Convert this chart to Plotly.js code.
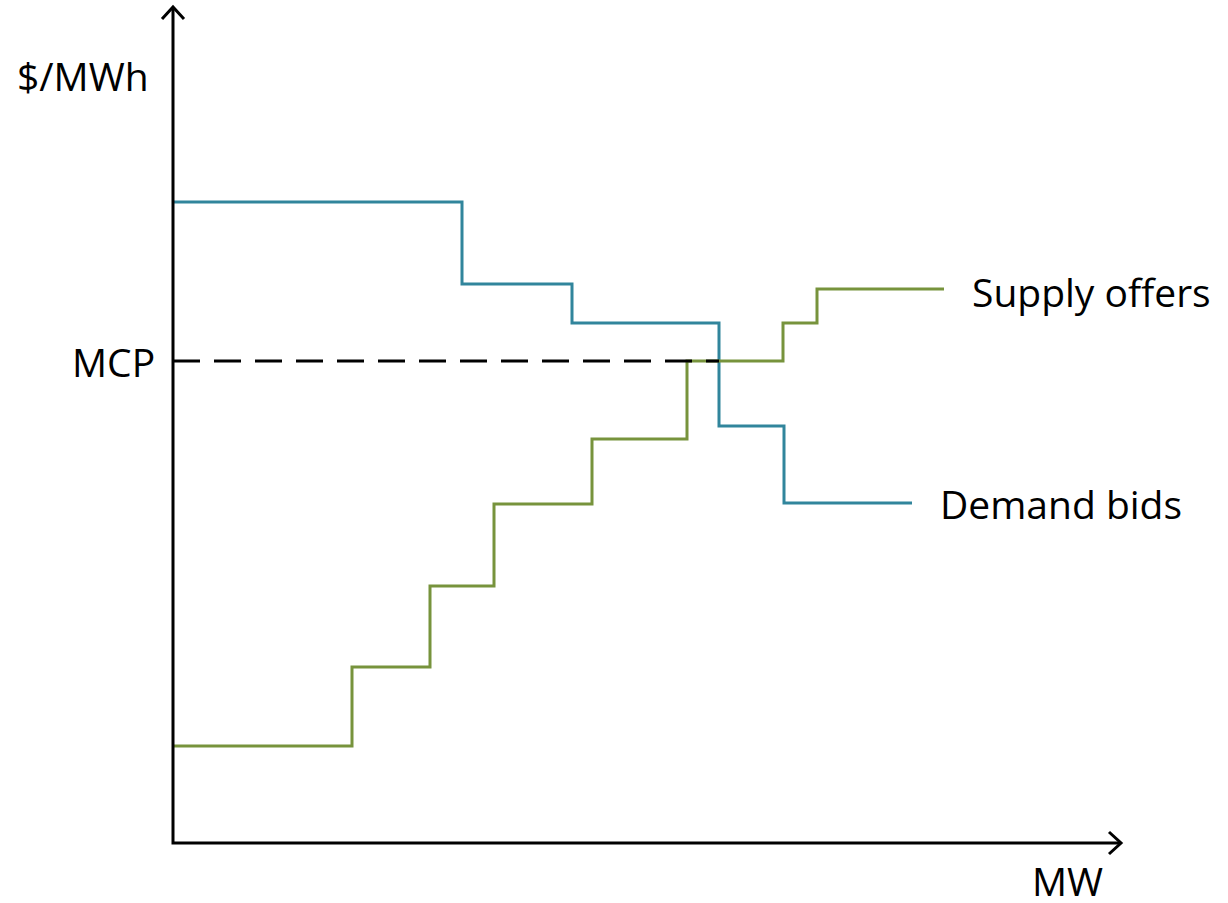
<!DOCTYPE html>
<html>
<head>
<meta charset="utf-8">
<script src="https://cdn.plot.ly/plotly-3.0.1.min.js"></script>
<style>html,body{margin:0;padding:0;background:#fff;}#chart{width:1228px;height:903px;}</style>
</head>
<body>
<div id="chart"></div>
<script>
// Schematic units (quantity MW, price $/MWh), origin at axes crossing
const demandMW    = [0, 289, 399, 546, 611, 739];
const demandPrice = [641, 559, 520, 417, 340, 340];
const supplyMW    = [0, 179, 257, 321, 419, 514, 610, 644, 771];
const supplyPrice = [97, 176, 257, 339, 404, 482, 520, 554, 554];
const mcp = 482;
const mcpMW = 546;
const axisMaxMW = 948;
const axisMaxPrice = 836;

const FONT = '"Open Sans", Lato, sans-serif';
const BLUE = '#31859C';
const GREEN = '#77933C';

const traces = [
  {x: demandMW, y: demandPrice, mode: 'lines', line: {shape: 'hv', color: BLUE, width: 3}, hoverinfo: 'skip'},
  {x: supplyMW, y: supplyPrice, mode: 'lines', line: {shape: 'hv', color: GREEN, width: 3}, hoverinfo: 'skip'},
  {x: [0, mcpMW], y: [mcp, mcp], mode: 'lines', line: {color: '#000', width: 3, dash: '27px,14px'}, hoverinfo: 'skip'},
  // axes
  {x: [0, 0, axisMaxMW], y: [axisMaxPrice, 0, 0], mode: 'lines', line: {color: '#000', width: 3}, hoverinfo: 'skip'},
  {x: [-11, 0, 11], y: [axisMaxPrice - 12, axisMaxPrice, axisMaxPrice - 12], mode: 'lines', line: {color: '#000', width: 3}, hoverinfo: 'skip'},
  {x: [axisMaxMW - 12, axisMaxMW, axisMaxMW - 12], y: [11, 0, -11], mode: 'lines', line: {color: '#000', width: 3}, hoverinfo: 'skip'}
];

const layout = {
  width: 1228, height: 903,
  margin: {l: 0, r: 0, t: 0, b: 0},
  paper_bgcolor: '#fff', plot_bgcolor: '#fff',
  showlegend: false,
  xaxis: {range: [-173, 1055], visible: false, fixedrange: true},
  yaxis: {range: [-60, 843], visible: false, fixedrange: true},
  font: {family: FONT, size: 39, color: '#000'},
  annotations: [
    {x: -90, y: 768, text: '$/MWh', showarrow: false, xanchor: 'center', yanchor: 'middle'},
    {x: -16, y: mcp, text: 'MCP', showarrow: false, xanchor: 'right', yanchor: 'middle'},
    {x: 797, y: 552, text: 'Supply offers', showarrow: false, xanchor: 'left', yanchor: 'middle'},
    {x: 765, y: 340, text: 'Demand bids', showarrow: false, xanchor: 'left', yanchor: 'middle'},
    {x: 894, y: -37, text: 'MW', showarrow: false, xanchor: 'center', yanchor: 'middle', height: 34, valign: 'middle'}
  ]
};

Plotly.newPlot('chart', traces, layout, {displayModeBar: false, staticPlot: true});
</script>
</body>
</html>
